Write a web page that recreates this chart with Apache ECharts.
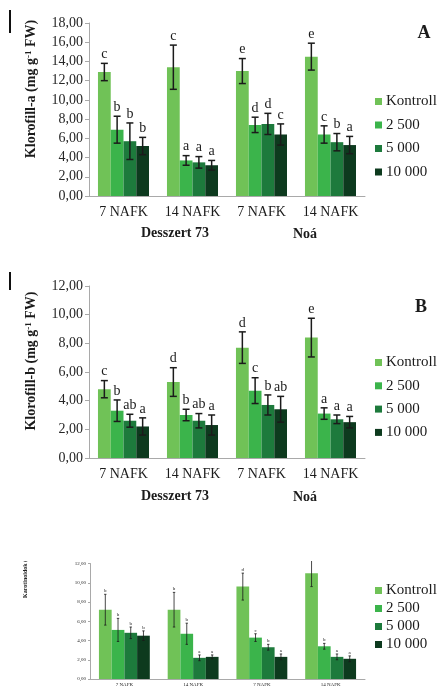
<!DOCTYPE html>
<html>
<head>
<meta charset="utf-8">
<script src="https://cdn.jsdelivr.net/npm/echarts@6/dist/echarts.min.js"></script>
<style>
  html, body { margin: 0; padding: 0; background: #ffffff; }
  #main { position: absolute; left: 0; top: 0; width: 439px; height: 561px; }
  #carot { position: absolute; left: 0; top: 561px; width: 439px; height: 126px; filter: blur(0.6px); }
</style>
</head>
<body>
<div id="main"></div>
<div id="carot"></div>
<script>
// Sampling times within each cultivar, and the cultivars themselves
const categories = ['7 NAFK', '14 NAFK', '7 NAFK', '14 NAFK'];
const cultivars = ['Desszert 73', 'Noá'];
const doses = ['Kontroll', '2 500', '5 000', '10 000'];

// Klorofill-a (mg g-1 FW): means, standard errors and significance letters
const chlA_kontroll = [12.9, 13.4, 13.0, 14.5];
const chlA_2500     = [6.9, 3.7, 7.4, 6.4];
const chlA_5000     = [5.7, 3.5, 7.5, 5.6];
const chlA_10000    = [5.2, 3.2, 6.4, 5.3];
const chlA_err_kontroll = [0.9, 2.3, 1.3, 1.4];
const chlA_err_2500     = [1.4, 0.5, 0.8, 0.9];
const chlA_err_5000     = [1.9, 0.6, 1.1, 0.9];
const chlA_err_10000    = [0.9, 0.5, 1.1, 0.9];
const chlA_sig_kontroll = ['c', 'c', 'e', 'e'];
const chlA_sig_2500     = ['b', 'a', 'd', 'c'];
const chlA_sig_5000     = ['b', 'a', 'd', 'b'];
const chlA_sig_10000    = ['b', 'a', 'c', 'a'];

// Klorofill-b (mg g-1 FW)
const chlB_kontroll = [4.8, 5.3, 7.7, 8.4];
const chlB_2500     = [3.3, 3.0, 4.7, 3.1];
const chlB_5000     = [2.6, 2.6, 3.7, 2.7];
const chlB_10000    = [2.2, 2.3, 3.4, 2.5];
const chlB_err_kontroll = [0.6, 1.0, 1.1, 1.35];
const chlB_err_2500     = [0.75, 0.4, 0.9, 0.4];
const chlB_err_5000     = [0.45, 0.5, 0.7, 0.3];
const chlB_err_10000    = [0.6, 0.7, 0.9, 0.4];
const chlB_sig_kontroll = ['c', 'd', 'd', 'e'];
const chlB_sig_2500     = ['b', 'b', 'c', 'a'];
const chlB_sig_5000     = ['ab', 'ab', 'b', 'a'];
const chlB_sig_10000    = ['a', 'a', 'ab', 'a'];

// Karotinoidok (mg g-1 FW)
const car_kontroll = [7.2, 7.2, 9.6, 11.0];
const car_2500     = [5.1, 4.7, 4.3, 3.4];
const car_5000     = [4.8, 2.2, 3.3, 2.3];
const car_10000    = [4.5, 2.3, 2.3, 2.1];
const car_err_kontroll = [1.6, 1.8, 1.4, 1.4];
const car_err_2500     = [1.2, 1.1, 0.4, 0.3];
const car_err_5000     = [0.6, 0.3, 0.3, 0.3];
const car_err_10000    = [0.5, 0.2, 0.3, 0.3];
const car_sig_kontroll = ['b', 'b', 'd', 'e'];
const car_sig_2500     = ['b', 'b', 'c', 'b'];
const car_sig_5000     = ['b', 'a', 'b', 'a'];
const car_sig_10000    = ['b', 'a', 'a', 'a'];

const doseColors = ['#70c257', '#3bb44b', '#1d7a3c', '#0d3a1e'];
const SERIF = '"Liberation Serif", "Times New Roman", serif';
const CAT_GAP = 0.26;

const fmtComma = v => v.toFixed(2).replace('.', ',');

function buildPanel(means, errs, sigs, axisIndex, style) {
  const series = [];
  means.forEach((vals, k) => {
    series.push({
      type: 'bar',
      name: doses[k],
      xAxisIndex: axisIndex,
      yAxisIndex: axisIndex,
      data: vals,
      barGap: '0%',
      barCategoryGap: (CAT_GAP * 100) + '%',
      itemStyle: { color: doseColors[k] },
      silent: true
    });
  });
  const points = [];
  const letters = [];
  means.forEach((vals, k) => {
    vals.forEach((v, c) => {
      points.push([c, k, v, errs[k][c]]);
      letters.push(sigs[k][c]);
    });
  });
  series.push({
    type: 'custom',
    xAxisIndex: axisIndex,
    yAxisIndex: axisIndex,
    z: 5,
    silent: true,
    encode: { x: 0, y: 2 },
    data: points,
    renderItem: function (params, api) {
      const c = api.value(0), k = api.value(1), v = api.value(2), e = api.value(3);
      const band = api.size([1, 0])[0];
      const bw = band * (1 - CAT_GAP) / 4;
      const x = api.coord([c, v])[0] + (k - 1.5) * bw;
      const yTop = api.coord([c, v + e])[1];
      const yBot = api.coord([c, v - e])[1];
      const ls = { stroke: '#1b1b1b', lineWidth: style.lw };
      return {
        type: 'group',
        children: [
          { type: 'line', shape: { x1: x, y1: yTop, x2: x, y2: yBot }, style: ls },
          { type: 'line', shape: { x1: x - style.cap, y1: yTop, x2: x + style.cap, y2: yTop }, style: ls },
          { type: 'line', shape: { x1: x - style.cap, y1: yBot, x2: x + style.cap, y2: yBot }, style: ls },
          {
            type: 'text',
            style: {
              text: letters[params.dataIndex],
              x: x, y: yTop - style.gap,
              align: 'center', verticalAlign: 'bottom',
              fontFamily: SERIF, fontSize: style.font, fill: '#1b1b1b'
            }
          }
        ]
      };
    }
  });
  return series;
}

function xAxisFor(idx, fontSize, margin) {
  return {
    type: 'category', gridIndex: idx, data: categories,
    axisTick: { show: false },
    axisLine: { lineStyle: { color: '#a9a9a9', width: 1 } },
    axisLabel: { interval: 0, fontFamily: SERIF, fontSize: fontSize, color: '#1b1b1b', margin: margin }
  };
}
function yAxisFor(idx, max, fontSize, margin, tickLen) {
  return {
    type: 'value', gridIndex: idx, min: 0, max: max, interval: 2,
    axisLine: { show: true, lineStyle: { color: '#a9a9a9', width: 1 } },
    axisTick: { show: true, length: tickLen, lineStyle: { color: '#a9a9a9' } },
    splitLine: { show: false },
    axisLabel: { fontFamily: SERIF, fontSize: fontSize, color: '#262626', margin: margin, formatter: fmtComma }
  };
}
function legendAt(left, top, gap, fontSize, iconSize) {
  return {
    orient: 'vertical', left: left, top: top, itemGap: gap,
    itemWidth: iconSize, itemHeight: iconSize, icon: 'rect', selectedMode: false,
    data: doses,
    textStyle: { fontFamily: SERIF, fontSize: fontSize, color: '#1b1b1b', padding: [0, 0, 0, -1] }
  };
}
function yTitle(x, y, name, size) {
  return {
    type: 'text', x: x, y: y, rotation: Math.PI / 2,
    style: {
      text: name + ' (mg g{sup|-1} FW)',
      align: 'center', verticalAlign: 'middle',
      fontFamily: SERIF, fontSize: size, fontWeight: 'bold', fill: '#1b1b1b',
      rich: { sup: { fontFamily: SERIF, fontSize: Math.round(size * 0.62), fontWeight: 'bold', verticalAlign: 'top', fill: '#1b1b1b' } }
    }
  };
}
function plainText(x, y, text, size, bold) {
  return {
    type: 'text', x: x, y: y,
    style: { text: text, align: 'center', verticalAlign: 'middle', fontFamily: SERIF, fontSize: size, fontWeight: bold ? 'bold' : 'normal', fill: '#1b1b1b' }
  };
}

const bigStyle = { lw: 1.5, cap: 3.5, gap: 2, font: 14 };

const mainChart = echarts.init(document.getElementById('main'), null, { renderer: 'canvas' });
mainChart.setOption({
  animation: false,
  backgroundColor: '#ffffff',
  grid: [
    { left: 89, top: 23, width: 276, height: 173 },
    { left: 89, top: 286, width: 276, height: 172 }
  ],
  xAxis: [xAxisFor(0, 14, 9), xAxisFor(1, 14, 9)],
  yAxis: [yAxisFor(0, 18, 14, 6, 4), yAxisFor(1, 12, 14, 6, 4)],
  legend: [legendAt(370, 89, 8.5, 15, 7), legendAt(370, 350, 8.3, 15, 7)],
  series: [].concat(
    buildPanel([chlA_kontroll, chlA_2500, chlA_5000, chlA_10000],
               [chlA_err_kontroll, chlA_err_2500, chlA_err_5000, chlA_err_10000],
               [chlA_sig_kontroll, chlA_sig_2500, chlA_sig_5000, chlA_sig_10000], 0, bigStyle),
    buildPanel([chlB_kontroll, chlB_2500, chlB_5000, chlB_10000],
               [chlB_err_kontroll, chlB_err_2500, chlB_err_5000, chlB_err_10000],
               [chlB_sig_kontroll, chlB_sig_2500, chlB_sig_5000, chlB_sig_10000], 1, bigStyle)
  ),
  graphic: [
    { type: 'rect', shape: { x: 9, y: 10, width: 2, height: 23 }, style: { fill: '#111' } },
    { type: 'rect', shape: { x: 9, y: 272, width: 2, height: 18 }, style: { fill: '#111' } },
    yTitle(31, 89, 'Klorofill-a', 14),
    yTitle(31, 361, 'Klorofill-b', 14),
    plainText(424, 33, 'A', 18, true),
    plainText(421, 307, 'B', 18, true),
    plainText(175, 233, cultivars[0], 14, true),
    plainText(305, 234, cultivars[1], 14, true),
    plainText(175, 496, cultivars[0], 14, true),
    plainText(305, 497, cultivars[1], 14, true)
  ]
});

// Carotenoid panel, drawn at a much smaller scale
const smallStyle = { lw: 0.8, cap: 1.2, gap: 1, font: 5 };
const carChart = echarts.init(document.getElementById('carot'), null, { renderer: 'canvas' });
carChart.setOption({
  animation: false,
  backgroundColor: '#ffffff',
  grid: [{ left: 90, top: -1, width: 275, height: 120 }],
  xAxis: [xAxisFor(0, 5, 3)],
  yAxis: [yAxisFor(0, 12, 5, 4, 2)],
  legend: [legendAt(370, 17, 3, 15, 7)],
  series: buildPanel([car_kontroll, car_2500, car_5000, car_10000],
                     [car_err_kontroll, car_err_2500, car_err_5000, car_err_10000],
                     [car_sig_kontroll, car_sig_2500, car_sig_5000, car_sig_10000], 0, smallStyle),
  graphic: [
    {
      type: 'text', x: 25, y: 37, rotation: Math.PI / 2,
      style: { text: 'Karotinoidok (mg g-1 FW)', align: 'left', verticalAlign: 'middle', fontFamily: SERIF, fontSize: 6, fontWeight: 'bold', fill: '#222' }
    }
  ]
});
</script>
</body>
</html>
